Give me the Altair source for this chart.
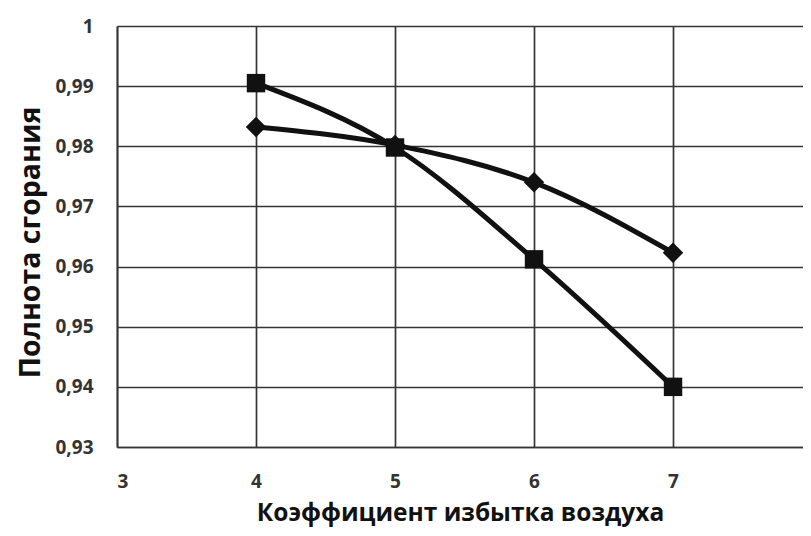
import altair as alt
import pandas as pd

x_vals = [4, 5, 6, 7]
diamond_vals = [0.9832, 0.9802, 0.9740, 0.9623]
square_vals = [0.9905, 0.9798, 0.9612, 0.9400]
x_ticks = [3, 4, 5, 6, 7, 8]
y_ticks = [0.93, 0.94, 0.95, 0.96, 0.97, 0.98, 0.99, 1.0]

df = pd.DataFrame(
    {"x": x_vals * 2,
     "y": diamond_vals + square_vals,
     "s": ["ромб"] * 4 + ["квадрат"] * 4}
)

FONT = "Open Sans"
DARK = "#353535"

# the reference plot area runs past the right edge of the picture (x = 8 is cut off)
xs = alt.Scale(domain=[3, 7.935], nice=False, zero=False)
ys = alt.Scale(domain=[0.93, 1.0], nice=False, zero=False)

x_axis = alt.Axis(values=x_ticks, grid=True, gridColor=DARK, gridWidth=1.7,
                  domainColor=DARK, domainWidth=1.7, ticks=False,
                  labelFont=FONT, labelFontWeight="bold", labelFontSize=19,
                  labelColor="#333", labelPadding=25,
                  title="Коэффициент избытка воздуха", titleFont=FONT,
                  titleFontWeight="bold", titleFontSize=24.5, titleColor="#111",
                  titlePadding=10)
y_axis = alt.Axis(values=y_ticks, grid=True, gridColor=DARK, gridWidth=1.7,
                  domainColor=DARK, domainWidth=1.7, ticks=False,
                  labelExpr="datum.value == 1 ? '1' : replace(format(datum.value, '.2f'), '.', ',')",
                  labelFont=FONT, labelFontWeight="bold", labelFontSize=19,
                  labelColor="#333", labelPadding=24,
                  title="Полнота сгорания", titleFont=FONT,
                  titleFontWeight="bold", titleFontSize=28.5, titleColor="#111",
                  titlePadding=9, titleY=216)

base = alt.Chart(df).encode(
    x=alt.X("x:Q", scale=xs, axis=x_axis),
    y=alt.Y("y:Q", scale=ys, axis=y_axis),
    detail="s:N",
)

lines = base.mark_line(color="#111", strokeWidth=5, interpolate="monotone", clip=True)
diamonds = base.transform_filter(alt.datum.s == "ромб").mark_point(
    shape="diamond", size=420, filled=True, color="#111", opacity=1)
squares = base.transform_filter(alt.datum.s == "квадрат").mark_point(
    shape="square", size=340, filled=True, color="#111", opacity=1)

chart = (lines + diamonds + squares).properties(
    width=686, height=421,
    autosize=alt.AutoSizeParams(type="none"),
    padding={"left": 109, "top": 18, "right": 0, "bottom": 81},
    background="white",
).configure_view(strokeWidth=0)

chart.save("out.html", embed_options={"renderer": "svg", "actions": False})
